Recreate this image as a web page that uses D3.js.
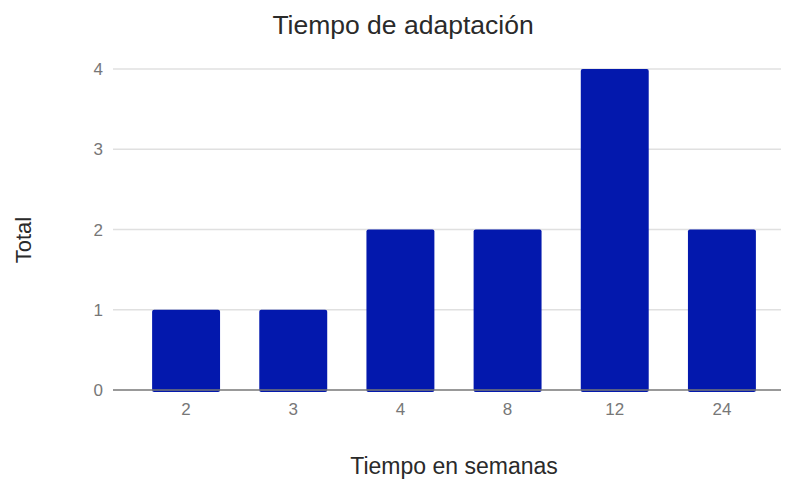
<!DOCTYPE html>
<html>
<head>
<meta charset="utf-8">
<script src="https://cdn.jsdelivr.net/npm/d3@7"></script>
<style>
  html, body { margin: 0; padding: 0; background: #fff; }
  svg { display: block; font-family: "Liberation Sans", Arial, sans-serif; }
</style>
</head>
<body>
<svg id="chart" width="795" height="482"></svg>
<script>
// Semanas de adaptación y número de casos
const categories = ["2", "3", "4", "8", "12", "24"];
const totals = [1, 1, 2, 2, 4, 2];
const yTicks = [0, 1, 2, 3, 4];

const W = 795, H = 482;
const plot = { left: 113, right: 781, top: 69, bottom: 390 };

const svg = d3.select("#chart");

const x = d3.scaleBand()
  .domain(categories)
  .range([132.5, 775.5])
  .paddingInner(0.366)
  .paddingOuter(0.183);

const y = d3.scaleLinear()
  .domain([0, 4])
  .range([plot.bottom, plot.top]);

// Líneas de cuadrícula
svg.append("g")
  .selectAll("line")
  .data(yTicks.filter(d => d !== 0))
  .join("line")
  .attr("x1", plot.left)
  .attr("x2", plot.right)
  .attr("y1", d => y(d))
  .attr("y2", d => y(d))
  .attr("stroke", "#e0e0e0")
  .attr("stroke-width", 1.5);

// Etiquetas del eje Y
svg.append("g")
  .selectAll("text")
  .data(yTicks)
  .join("text")
  .attr("x", plot.left - 10)
  .attr("y", d => y(d))
  .attr("dy", "0.36em")
  .attr("text-anchor", "end")
  .attr("fill", "#777")
  .attr("font-size", 17)
  .text(d => d);

// Barras
svg.append("g")
  .selectAll("rect")
  .data(categories.map((c, i) => ({ c, v: totals[i] })))
  .join("rect")
  .attr("x", d => x(d.c))
  .attr("width", x.bandwidth())
  .attr("y", d => y(d.v))
  .attr("height", d => y(0) - y(d.v) + 2)
  .attr("rx", 2)
  .attr("fill", "#0318ad");

// Línea base
svg.append("line")
  .attr("x1", plot.left)
  .attr("x2", plot.right)
  .attr("y1", y(0))
  .attr("y2", y(0))
  .attr("stroke", "#777")
  .attr("stroke-width", 1.5);

// Etiquetas del eje X
svg.append("g")
  .selectAll("text")
  .data(categories)
  .join("text")
  .attr("x", d => x(d) + x.bandwidth() / 2)
  .attr("y", 415)
  .attr("text-anchor", "middle")
  .attr("fill", "#777")
  .attr("font-size", 17)
  .text(d => d);

// Título
svg.append("text")
  .attr("x", 403)
  .attr("y", 34)
  .attr("text-anchor", "middle")
  .attr("fill", "#2a2a2a")
  .attr("font-size", 26.5)
  .text("Tiempo de adaptación");

// Título del eje X
svg.append("text")
  .attr("x", 454)
  .attr("y", 474)
  .attr("text-anchor", "middle")
  .attr("fill", "#2a2a2a")
  .attr("font-size", 23)
  .text("Tiempo en semanas");

// Título del eje Y
svg.append("text")
  .attr("transform", "translate(31,240) rotate(-90)")
  .attr("text-anchor", "middle")
  .attr("fill", "#2a2a2a")
  .attr("font-size", 22)
  .text("Total");
</script>
</body>
</html>
